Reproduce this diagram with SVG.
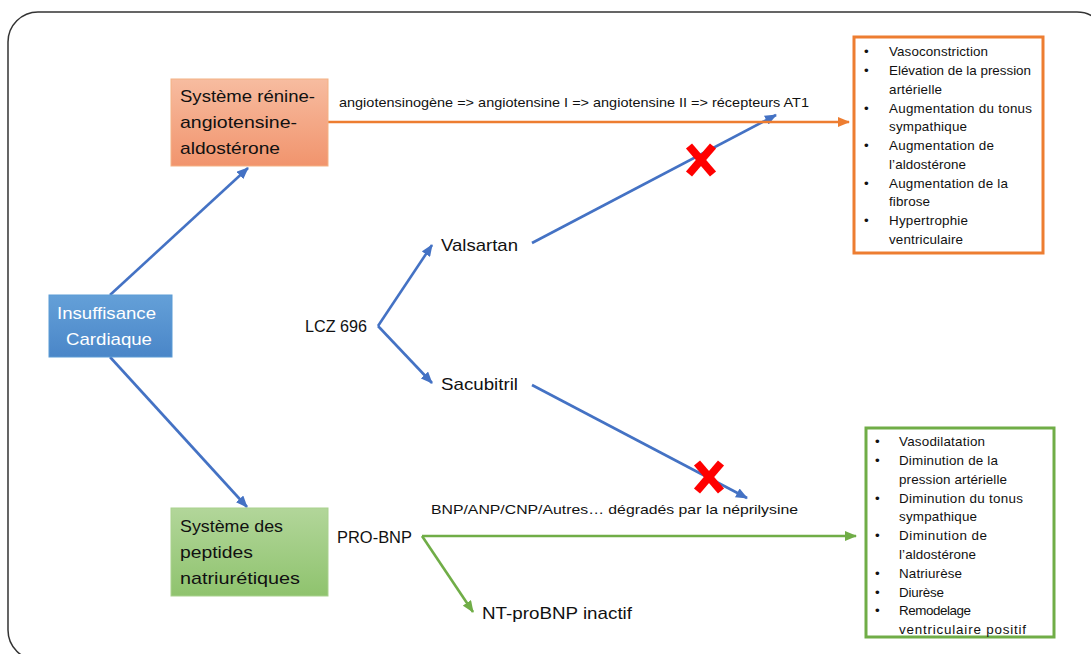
<svg xmlns="http://www.w3.org/2000/svg" width="1091" height="654" viewBox="0 0 1091 654">
<defs>
<linearGradient id="gOr" x1="0" y1="0" x2="0" y2="1"><stop offset="0" stop-color="#f7bca0"/><stop offset="1" stop-color="#f1946d"/></linearGradient>
<linearGradient id="gBl" x1="0" y1="0" x2="0" y2="1"><stop offset="0" stop-color="#64a0d8"/><stop offset="1" stop-color="#4a86c8"/></linearGradient>
<linearGradient id="gGr" x1="0" y1="0" x2="0" y2="1"><stop offset="0" stop-color="#b2d69a"/><stop offset="1" stop-color="#8fc36e"/></linearGradient>
<marker id="aB" markerUnits="userSpaceOnUse" markerWidth="12" markerHeight="10" refX="11" refY="5" orient="auto"><path d="M0,0 L12,5 L0,10 z" fill="#4472c4"/></marker>
<marker id="aO" markerUnits="userSpaceOnUse" markerWidth="12" markerHeight="10" refX="11" refY="5" orient="auto"><path d="M0,0 L12,5 L0,10 z" fill="#ed7d31"/></marker>
<marker id="aG" markerUnits="userSpaceOnUse" markerWidth="12" markerHeight="10" refX="11" refY="5" orient="auto"><path d="M0,0 L12,5 L0,10 z" fill="#70ad47"/></marker>
</defs>
<style>
text{font-family:"Liberation Sans",Arial,sans-serif;fill:#111}
.big{font-size:17px}
.mid{font-size:13.5px}
.li{font-size:13.4px}
.blue{stroke:#4472c4;stroke-width:2.6;fill:none}
.or{stroke:#ed7d31;stroke-width:2.6;fill:none}
.gr{stroke:#70ad47;stroke-width:2.6;fill:none}
.x{stroke:#ff0000;stroke-width:8;stroke-linecap:butt}
</style>
<rect x="8" y="12" width="1099" height="648" rx="30" fill="#fff" stroke="#333" stroke-width="1.5"/>

<g id="connectors">
<line class="blue" x1="110" y1="295" x2="248" y2="168" marker-end="url(#aB)"/>
<line class="blue" x1="110" y1="357" x2="247" y2="507" marker-end="url(#aB)"/>
<line class="blue" x1="378" y1="326" x2="432" y2="245" marker-end="url(#aB)"/>
<line class="blue" x1="378" y1="326" x2="432" y2="383" marker-end="url(#aB)"/>
<line class="blue" x1="532" y1="243" x2="776" y2="115" marker-end="url(#aB)"/>
<line class="blue" x1="532" y1="385" x2="747" y2="498" marker-end="url(#aB)"/>
<line class="or" x1="328" y1="122" x2="849" y2="122" marker-end="url(#aO)"/>
<line class="gr" x1="422" y1="536" x2="856" y2="536" marker-end="url(#aG)"/>
<line class="gr" x1="422" y1="536" x2="473" y2="612" marker-end="url(#aG)"/>
<g id="x1"><line class="x" x1="689" y1="146" x2="713" y2="174"/><line class="x" x1="713" y1="146" x2="689" y2="174"/></g>
<g id="x2"><line class="x" x1="697" y1="463" x2="721" y2="491"/><line class="x" x1="721" y1="463" x2="697" y2="491"/></g>
<text class="mid" x="339" y="107" textLength="470" lengthAdjust="spacingAndGlyphs">angiotensinogène =&gt; angiotensine I =&gt; angiotensine II =&gt; récepteurs AT1</text>
<text class="mid" x="431" y="514" textLength="367" lengthAdjust="spacingAndGlyphs">BNP/ANP/CNP/Autres…  dégradés par la néprilysine</text>
</g>

<g id="raas">
<rect x="171" y="79" width="157" height="87" fill="url(#gOr)" stroke="#f4b183" stroke-width="1"/>
<text class="big" x="180" y="102" textLength="135" lengthAdjust="spacingAndGlyphs">Système rénine-</text>
<text class="big" x="180" y="128" textLength="117" lengthAdjust="spacingAndGlyphs">angiotensine-</text>
<text class="big" x="180" y="154" textLength="100" lengthAdjust="spacingAndGlyphs">aldostérone</text>
</g>

<g id="ic">
<rect x="49" y="295" width="123" height="62" fill="url(#gBl)" stroke="#5b9bd5" stroke-width="1"/>
<text class="big" x="57" y="319" textLength="99" lengthAdjust="spacingAndGlyphs" style="fill:#fff">Insuffisance</text>
<text class="big" x="66" y="345" textLength="86" lengthAdjust="spacingAndGlyphs" style="fill:#fff">Cardiaque</text>
</g>

<g id="np">
<rect x="171" y="508" width="157" height="88" fill="url(#gGr)" stroke="#a9d18e" stroke-width="1"/>
<text class="big" x="180" y="532" textLength="103" lengthAdjust="spacingAndGlyphs">Système des</text>
<text class="big" x="180" y="558" textLength="73" lengthAdjust="spacingAndGlyphs">peptides</text>
<text class="big" x="180" y="584" textLength="120" lengthAdjust="spacingAndGlyphs">natriurétiques</text>
</g>

<g id="lcz"><text class="big" x="305" y="332" textLength="62" lengthAdjust="spacingAndGlyphs">LCZ 696</text></g>
<g id="valsartan"><text class="big" x="441" y="251" textLength="77" lengthAdjust="spacingAndGlyphs">Valsartan</text></g>
<g id="sacubitril"><text class="big" x="441" y="390" textLength="77" lengthAdjust="spacingAndGlyphs">Sacubitril</text></g>
<g id="probnp"><text class="big" x="337" y="543" textLength="75" lengthAdjust="spacingAndGlyphs">PRO-BNP</text></g>
<g id="ntprobnp"><text class="big" x="482" y="619" textLength="150" lengthAdjust="spacingAndGlyphs">NT-proBNP inactif</text></g>

<g id="effets-raas">
<rect x="854" y="37" width="189" height="216" fill="#fff" stroke="#ed7d31" stroke-width="3"/>
<text class="li" x="864" y="56">•</text><text class="li" x="889" y="56" textLength="99" lengthAdjust="spacing">Vasoconstriction</text>
<text class="li" x="864" y="75">•</text><text class="li" x="889" y="75" textLength="142" lengthAdjust="spacing">Elévation de la pression</text>
<text class="li" x="889" y="94" textLength="53" lengthAdjust="spacing">artérielle</text>
<text class="li" x="864" y="113">•</text><text class="li" x="889" y="113" textLength="143" lengthAdjust="spacing">Augmentation du tonus</text>
<text class="li" x="889" y="131" textLength="78" lengthAdjust="spacing">sympathique</text>
<text class="li" x="864" y="150">•</text><text class="li" x="889" y="150" textLength="105" lengthAdjust="spacing">Augmentation de</text>
<text class="li" x="889" y="169" textLength="77" lengthAdjust="spacing">l’aldostérone</text>
<text class="li" x="864" y="188">•</text><text class="li" x="889" y="188" textLength="119" lengthAdjust="spacing">Augmentation de la</text>
<text class="li" x="889" y="206" textLength="41" lengthAdjust="spacing">fibrose</text>
<text class="li" x="864" y="225">•</text><text class="li" x="889" y="225" textLength="79" lengthAdjust="spacing">Hypertrophie</text>
<text class="li" x="889" y="244" textLength="74" lengthAdjust="spacing">ventriculaire</text>
</g>

<g id="effets-np">
<rect x="866" y="428" width="188" height="209" fill="#fff" stroke="#70ad47" stroke-width="3"/>
<text class="li" x="875" y="446">•</text><text class="li" x="899" y="446" textLength="86" lengthAdjust="spacing">Vasodilatation</text>
<text class="li" x="875" y="465">•</text><text class="li" x="899" y="465" textLength="99" lengthAdjust="spacing">Diminution de la</text>
<text class="li" x="899" y="484" textLength="108" lengthAdjust="spacing">pression artérielle</text>
<text class="li" x="875" y="503">•</text><text class="li" x="899" y="503" textLength="124" lengthAdjust="spacing">Diminution du tonus</text>
<text class="li" x="899" y="521" textLength="78" lengthAdjust="spacing">sympathique</text>
<text class="li" x="875" y="540">•</text><text class="li" x="899" y="540" textLength="88" lengthAdjust="spacing">Diminution de</text>
<text class="li" x="899" y="559" textLength="77" lengthAdjust="spacing">l’aldostérone</text>
<text class="li" x="875" y="578">•</text><text class="li" x="899" y="578" textLength="63" lengthAdjust="spacing">Natriurèse</text>
<text class="li" x="875" y="597">•</text><text class="li" x="899" y="597" textLength="45" lengthAdjust="spacing">Diurèse</text>
<text class="li" x="875" y="615">•</text><text class="li" x="899" y="615" textLength="72" lengthAdjust="spacing">Remodelage</text>
<text class="li" x="899" y="634" textLength="127" lengthAdjust="spacing">ventriculaire positif</text>
</g>
</svg>
